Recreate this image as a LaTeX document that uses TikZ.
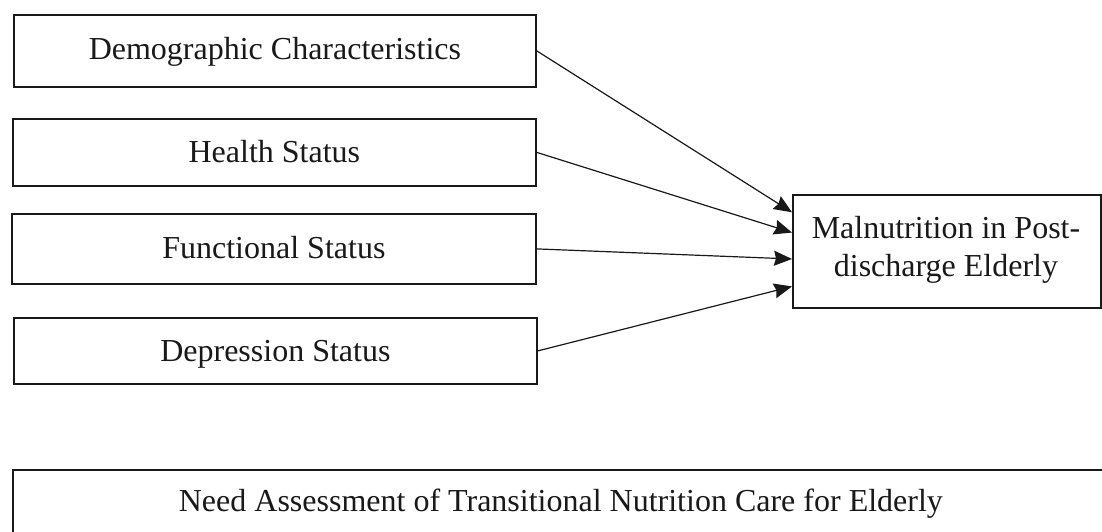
\documentclass[tikz,border=0pt]{standalone}
\usepackage{fontspec}
\setmainfont{Liberation Serif}
\usetikzlibrary{arrows.meta,calc}
\begin{document}
\begin{tikzpicture}[x=1pt,y=-1pt,
  boxstyle/.style={draw=black!90, line width=1.8pt, rectangle, inner xsep=0pt, inner ysep=0pt,
    anchor=north west, font=\fontsize{32pt}{38pt}\selectfont, text=black!90},
  textstyle/.style={inner sep=0pt, anchor=base, font=\fontsize{32pt}{38pt}\selectfont, text=black!90},
  arrowstyle/.style={draw=black!90, line width=1.2pt, -{Stealth[length=18pt,width=15pt,inset=2pt]}}]
\useasboundingbox (0,0) rectangle (1102,531);
\clip (0,0) rectangle (1102,531);
\fill[white] (0,0) rectangle (1102,531);
% left boxes
\node[boxstyle, minimum width=522pt, text height=45pt, text depth=27pt] (demo) at (13,14) {Demographic Characteristics};
\node[boxstyle, minimum width=523pt, text height=44pt, text depth=23pt] (health) at (12,118) {Health Status};
\node[boxstyle, minimum width=524pt, text height=45pt, text depth=25pt] (func) at (11,213) {Functional Status};
\node[boxstyle, minimum width=523pt, text height=44pt, text depth=22pt] (depr) at (13,317) {Depression Status};
% right box
\node[boxstyle, minimum width=308pt, minimum height=113pt] (mal) at (792,194) {};
\node[textstyle] (malA) at (946,238) {Malnutrition in Post-};
\node[textstyle] (malB) at (946,276) {discharge Elderly};
% bottom box
\node[boxstyle, minimum width=1096pt, text height=42pt, text depth=58pt] (need) at (12,469) {Need Assessment of Transitional Nutrition Care for Elderly};
% arrow targets
\coordinate (t1) at ($(mal.north west)!0.159!(mal.south west)$);
\coordinate (t2) at ($(mal.north west)!0.336!(mal.south west)$);
\coordinate (t3) at ($(mal.north west)!0.566!(mal.south west)$);
\coordinate (t4) at ($(mal.north west)!0.805!(mal.south west)$);
\draw[arrowstyle] (demo.east) -- (t1);
\draw[arrowstyle] (health.east) -- (t2);
\draw[arrowstyle] (func.east) -- (t3);
\draw[arrowstyle] (depr.east) -- (t4);
\end{tikzpicture}
\end{document}
